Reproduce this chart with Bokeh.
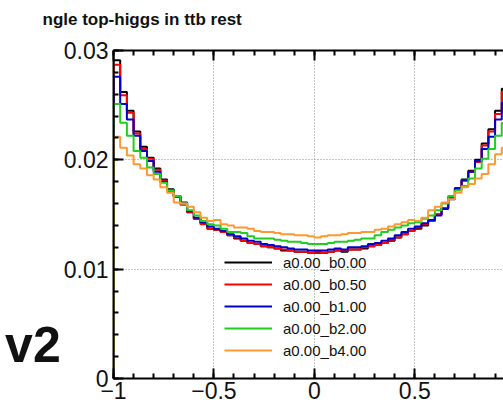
import numpy as np
from bokeh.plotting import figure
from bokeh.models import Range1d, LinearAxis, FixedTicker, Title, CustomJSTickFormatter
from bokeh.embed import file_html
from bokeh.resources import INLINE

# ---------------- data ----------------
series_names = ["a0.00_b0.00", "a0.00_b0.50", "a0.00_b1.00", "a0.00_b2.00", "a0.00_b4.00"]
series_colors = ["#000000", "#ff0000", "#0000cc", "#22cc22", "#ff9933"]

n_bins = 60
x_lo, x_hi = -1.0, 1.0

b000 = [0.0291, 0.0262, 0.0245, 0.0226, 0.0212, 0.0202, 0.0192, 0.0182, 0.0173, 0.0167,
        0.0160, 0.0152, 0.0146, 0.0142, 0.0137, 0.0136, 0.0134, 0.0131, 0.0128, 0.0126,
        0.0124, 0.0123, 0.0121, 0.0120, 0.0119, 0.0117, 0.0117, 0.0116, 0.0116, 0.0115,
        0.0115, 0.0115, 0.0116, 0.0117, 0.0116, 0.0118, 0.0118, 0.0119, 0.0121, 0.0122,
        0.0124, 0.0126, 0.0129, 0.0132, 0.0135, 0.0137, 0.0140, 0.0144, 0.0150, 0.0156,
        0.0166, 0.0174, 0.0182, 0.0190, 0.0200, 0.0215, 0.0228, 0.0245, 0.0265, 0.0292]
b050 = [0.0287, 0.0259, 0.0243, 0.0224, 0.0210, 0.0201, 0.0191, 0.0181, 0.0172, 0.0166,
        0.0159, 0.0152, 0.0146, 0.0141, 0.0137, 0.0136, 0.0134, 0.0131, 0.0129, 0.0126,
        0.0124, 0.0123, 0.0121, 0.0120, 0.0119, 0.0118, 0.0117, 0.0116, 0.0116, 0.0115,
        0.0116, 0.0115, 0.0116, 0.0117, 0.0117, 0.0118, 0.0118, 0.0120, 0.0121, 0.0122,
        0.0124, 0.0127, 0.0129, 0.0132, 0.0135, 0.0138, 0.0141, 0.0144, 0.0150, 0.0156,
        0.0165, 0.0173, 0.0181, 0.0189, 0.0198, 0.0213, 0.0226, 0.0242, 0.0262, 0.0288]
b100 = [0.0276, 0.0251, 0.0237, 0.0222, 0.0208, 0.0199, 0.0189, 0.0180, 0.0172, 0.0167,
        0.0161, 0.0153, 0.0147, 0.0143, 0.0139, 0.0137, 0.0135, 0.0132, 0.0130, 0.0128,
        0.0126, 0.0125, 0.0123, 0.0122, 0.0121, 0.0120, 0.0119, 0.0118, 0.0118, 0.0117,
        0.0117, 0.0117, 0.0118, 0.0119, 0.0118, 0.0120, 0.0120, 0.0121, 0.0123, 0.0124,
        0.0126, 0.0128, 0.0131, 0.0134, 0.0137, 0.0139, 0.0142, 0.0145, 0.0149, 0.0155,
        0.0164, 0.0174, 0.0181, 0.0189, 0.0199, 0.0210, 0.0221, 0.0237, 0.0252, 0.0277]
b200 = [0.0251, 0.0234, 0.0222, 0.0208, 0.0202, 0.0193, 0.0187, 0.0179, 0.0172, 0.0167,
        0.0160, 0.0154, 0.0149, 0.0144, 0.0141, 0.0140, 0.0137, 0.0134, 0.0134, 0.0133,
        0.0130, 0.0128, 0.0128, 0.0128, 0.0127, 0.0126, 0.0125, 0.0125, 0.0124, 0.0123,
        0.0123, 0.0123, 0.0124, 0.0125, 0.0125, 0.0126, 0.0127, 0.0128, 0.0128, 0.0131,
        0.0134, 0.0136, 0.0138, 0.0140, 0.0142, 0.0143, 0.0146, 0.0149, 0.0154, 0.0160,
        0.0167, 0.0172, 0.0176, 0.0183, 0.0192, 0.0201, 0.0210, 0.0222, 0.0234, 0.0252]
b400 = [0.0221, 0.0211, 0.0204, 0.0196, 0.0192, 0.0186, 0.0182, 0.0175, 0.0170, 0.0161,
        0.0160, 0.0157, 0.0152, 0.0147, 0.0144, 0.0145, 0.0141, 0.0140, 0.0138, 0.0138,
        0.0137, 0.0135, 0.0134, 0.0134, 0.0133, 0.0132, 0.0132, 0.0131, 0.0131, 0.0130,
        0.0129, 0.0130, 0.0131, 0.0131, 0.0132, 0.0133, 0.0133, 0.0134, 0.0134, 0.0136,
        0.0137, 0.0139, 0.0141, 0.0143, 0.0145, 0.0144, 0.0147, 0.0154, 0.0157, 0.0161,
        0.0164, 0.0170, 0.0175, 0.0178, 0.0183, 0.0187, 0.0196, 0.0205, 0.0211, 0.0222]

x_ticks = [-1.0, -0.5, 0.0, 0.5, 1.0]
x_tick_labels = ["\u22121", "\u22120.5", "0", "0.5", "1"]
y_ticks = [0.0, 0.01, 0.02, 0.03]
y_tick_labels = ["0", "0.01", "0.02", "0.03"]
title_text = "ngle top-higgs in ttb rest"
side_text = "v2"

# ---------------- figure ----------------
FONT = "Liberation Sans"
p = figure(width=503, height=405, output_backend="svg", toolbar_location=None,
           x_range=Range1d(-1.0, 0.942), y_range=Range1d(0.0, 0.03),
           min_border_left=113, min_border_right=0, min_border_top=50, min_border_bottom=27)
p.outline_line_color = None
p.background_fill_color = "white"
p.border_fill_color = "white"

edges = np.linspace(x_lo, x_hi, n_bins + 1)


def step_path(vals):
    xs = [edges[0]]
    ys = [0.0]
    for i, v in enumerate(vals):
        xs += [edges[i], edges[i + 1]]
        ys += [v, v]
    xs.append(edges[-1])
    ys.append(0.0)
    return xs, ys


for vals, name, col in zip([b000, b050, b100, b200, b400], series_names, series_colors):
    xs, ys = step_path(vals)
    p.line(xs, ys, line_color=col, line_width=2, legend_label=name)

x_minor = [round(v, 2) for v in np.arange(-1.0, 1.0001, 0.1)]
y_minor = [round(v, 4) for v in np.arange(0.0, 0.03001, 0.002)]


def style_axis(ax):
    ax.axis_line_width = 2
    ax.axis_line_color = "black"
    ax.major_tick_in = 10
    ax.major_tick_out = 0
    ax.minor_tick_in = 5
    ax.minor_tick_out = 0
    ax.major_tick_line_width = 2
    ax.minor_tick_line_width = 2
    ax.major_tick_line_color = "black"
    ax.minor_tick_line_color = "black"
    ax.major_label_text_font = FONT
    ax.major_label_text_font_size = "23px"
    ax.major_label_text_color = "#111111"


xa = p.xaxis[0]
xa.ticker = FixedTicker(ticks=x_ticks, minor_ticks=x_minor)
xa.major_label_overrides = {t: l for t, l in zip(x_ticks, x_tick_labels)}
style_axis(xa)
xa.major_label_standoff = 3

ya = p.yaxis[0]
ya.ticker = FixedTicker(ticks=y_ticks, minor_ticks=y_minor)
ya.major_label_overrides = {t: l for t, l in zip(y_ticks, y_tick_labels)}
style_axis(ya)
ya.major_label_standoff = 5
# large side text shown as the (horizontal) y-axis label in the left border
ya.axis_label = side_text + "\n"
ya.axis_label_orientation = "horizontal"
ya.axis_label_text_font = FONT
ya.axis_label_text_font_style = "bold"
ya.axis_label_text_font_size = "50px"
ya.axis_label_text_color = "#111111"
ya.axis_label_standoff = 0
if "axis_label_align" in type(ya).properties():
    ya.axis_label_align = "start"

top = LinearAxis(ticker=FixedTicker(ticks=x_ticks, minor_ticks=x_minor),
                 formatter=CustomJSTickFormatter(code="return ''"))
style_axis(top)
top.major_label_text_font_size = "1px"
top.major_label_standoff = 0
p.add_layout(top, "above")

p.xgrid.ticker = FixedTicker(ticks=x_ticks)
p.ygrid.ticker = FixedTicker(ticks=y_ticks)
for g in (p.xgrid, p.ygrid):
    g.grid_line_color = "#888888"
    g.grid_line_dash = "1 2"
    g.grid_line_width = 1

lg = p.legend[0]
lg.location = (111, 18)
lg.border_line_color = None
lg.background_fill_alpha = 0
lg.padding = 0
lg.margin = 0
lg.spacing = 2
lg.glyph_width = 48
lg.glyph_height = 20
lg.label_height = 20
lg.label_standoff = 11
lg.label_text_font = FONT
lg.label_text_font_size = "15px"
lg.label_text_color = "#111111"

# title in the top border; the trailing empty line lifts it clear of the frame
ttl = Title(text=title_text + "\n", align="left", offset=-71, standoff=0,
            text_font=FONT, text_font_style="bold", text_font_size="17px",
            text_line_height=1.15, text_color="#111111")
p.add_layout(ttl, "above")

open("out.html", "w").write(file_html(p, INLINE))
